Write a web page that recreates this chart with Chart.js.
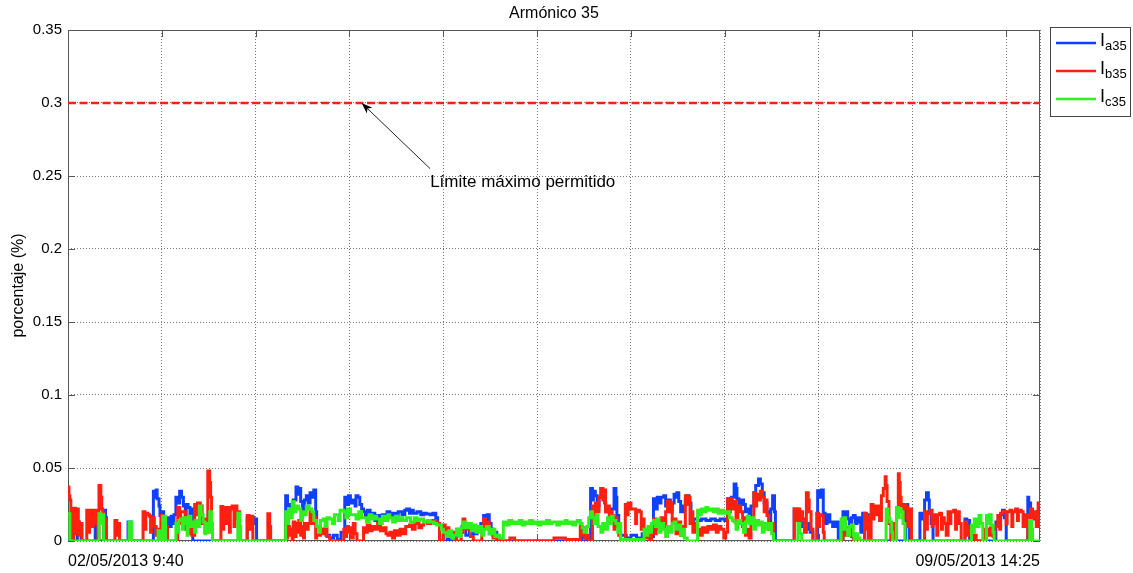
<!DOCTYPE html>
<html>
<head>
<meta charset="utf-8">
<title>Armónico 35</title>
<script src="https://cdn.jsdelivr.net/npm/chart.js@4.4.1/dist/chart.umd.min.js"></script>
<style>
  html, body { margin: 0; padding: 0; background: #ffffff; }
  #wrap { width: 1133px; height: 573px; }
</style>
</head>
<body>
<div id="wrap"><canvas id="chart" width="1133" height="573"></canvas></div>
<script>
// Sample index runs from the first record (02/05/2013 9:40) to the last (09/05/2013 14:25), 10-minute steps
const lastSample = 1036;
const xTickLabels = ['02/05/2013 9:40', '09/05/2013 14:25'];
const xGridStep = 100;
const yTickValues = [0, 0.05, 0.1, 0.15, 0.2, 0.25, 0.3, 0.35];
const limitValue = 0.3;
const limitText = 'Límite máximo permitido';
const chartTitle = 'Armónico 35';
const yAxisTitle = 'porcentaje (%)';
const seriesLabels = ['a35', 'b35', 'c35'];

// Each pair is [sample index, value in %]; the value holds until the next pair
const ia35 = [
  [0,0],[3,0.013],[4,0.006],[5,0.012],[6,0],[10,0.013],[12,0.008],[13,0.012],[14,0],
  [29,0.019],[31,0.012],[32,0],[38,0.021],[40,0.016],[41,0],[64,0.013],[67,0],
  [91,0.034],[93,0.03],[94,0.035],[95,0.029],[97,0.024],[98,0.0175],[100,0.02],[102,0.012],[104,0],
  [106,0.016],[108,0.01],[110,0.017],[112,0.012],[113,0.018],[115,0.030],[117,0.026],[119,0.034],[121,0.03],
  [123,0.024],[125,0.018],[126,0.025],[128,0.023],[130,0.016],[131,0.022],[133,0],
  [191,0.0157],[193,0.01],[195,0.016],[198,0.012],[200,0.015],[201,0],
  [232,0.031],[234,0.024],[236,0.025],[238,0.02],[240,0.028],[243,0.037],[245,0.032],[246,0.036],[248,0.027],
  [250,0.02],[252,0.028],[254,0.031],[256,0.026],
  [258,0.033],[260,0.03],[262,0.035],[264,0.02],[265,0.006],[267,0.01],[269,0.006],[272,0.008],[275,0.004],
  [279,0.002],[283,0.004],[287,0.001],[291,0.006],
  [295,0.030],[297,0.025],[299,0.031],[301,0.026],[304,0.028],[306,0.024],[307,0.031],[309,0.030],[311,0.025],
  [313,0.022],[315,0.020],[317,0.017],[319,0.021],[322,0.016],[325,0.019],[327,0.014],[329,0.0175],[332,0.016],
  [335,0.018],[338,0.015],[340,0.02],[343,0.016],[346,0.019],[349,0.017],[352,0.02],[356,0.018],[359,0.021],
  [361,0.022],[364,0.019],[366,0.021],[368,0.019],[372,0.02],[376,0.018],[379,0.019],[382,0.0185],[386,0.018],
  [389,0.019],[392,0.016],[394,0.012],[396,0],
  [400,0.003],[404,0.001],[408,0.004],[412,0.002],[414,0.008],[417,0.006],[420,0.01],[424,0.004],[428,0.008],
  [432,0.005],[436,0.009],[440,0.012],[443,0.0175],[445,0.012],[447,0.018],[449,0.012],[451,0.008],[453,0.004],
  [455,0.006],[457,0.003],[460,0],
  [548,0.003],[552,0],[557,0.036],[559,0.028],[560,0.034],[562,0.031],[564,0.024],[566,0.03],[568,0.036],[570,0.03],
  [572,0.026],[573,0.02],[575,0.020],[577,0.014],[579,0.022],[582,0.036],[584,0.03],[585,0.0175],[587,0.01],
  [589,0.004],[595,0.002],[600,0.004],[606,0.002],[612,0.005],[618,0.003],
  [624,0.029],[626,0.022],[628,0.03],[630,0.026],[632,0.03],[635,0.031],[637,0.024],[639,0.028],[642,0.020],
  [644,0.026],[646,0.032],[648,0.03],[649,0.033],[651,0.027],[653,0.02],[655,0.024],[658,0.028],[660,0.031],
  [662,0.026],[664,0.013],[667,0.015],[671,0.014],[675,0.015],[680,0.014],[685,0.015],[690,0.014],[695,0.015],[700,0.014],
  [703,0.029],[705,0.024],[707,0.03],[710,0.039],[712,0.036],[713,0.029],[715,0.024],[717,0.028],[720,0.025],
  [722,0.02],[724,0.022],[726,0.016],[728,0.024],[731,0.033],[733,0.038],[736,0.0425],[738,0.039],[740,0.033],
  [742,0.026],[745,0.020],[747,0.014],[749,0.022],[751,0.031],[753,0.02],[754,0],[774,0.022],
  [778,0.0165],[780,0.01],[782,0.013],[785,0.008],[788,0.012],[791,0.006],[794,0],
  [799,0.0345],[801,0.03],[803,0.035],[805,0.019],[807,0.012],[809,0.018],[812,0.013],[815,0.01],[818,0.013],[821,0],
  [826,0.020],[828,0.016],[829,0.02],[831,0.015],[833,0.008],[835,0.016],[837,0.0175],[839,0.012],[841,0.016],
  [844,0.013],[845,0.006],[847,0.019],[849,0.014],[851,0.018],[853,0],
  [893,0.025],[895,0.02],[897,0],[908,0.019],[911,0.015],[913,0.028],[915,0.033],[917,0.028],[918,0.020],[920,0.012],[922,0],
  [956,0.015],[958,0.01],[960,0.014],[961,0],[989,0.013],[992,0.01],[994,0.018],[996,0.021],[998,0.016],[1000,0],
  [1023,0.030],[1024,0.026],[1026,0.018],[1030,0.015],[1033,0.02],[1036,0.02]
];

const ib35 = [
  [0,0.037],[1,0.031],[2,0.028],[3,0.008],[4,0.003],[5,0],[6,0.0225],[8,0.005],[9,0.022],[11,0.013],[12,0.004],
  [13,0.012],[15,0],
  [20,0.021],[22,0.006],[23,0.021],[26,0.01],[27,0.021],[30,0.012],[31,0.02],[32,0],[33,0.038],[35,0.03],[36,0.022],
  [37,0.019],[39,0.008],[40,0.015],[41,0],
  [50,0.014],[52,0.004],[53,0.012],[55,0],
  [80,0.020],[82,0.008],[83,0.019],[85,0.018],[87,0.017],[88,0.006],[89,0.016],[92,0.01],[94,0.004],[96,0.008],
  [97,0.002],[99,0.0175],[101,0.006],[102,0.016],[104,0.01],[106,0],
  [117,0.023],[119,0.012],[120,0.02],[123,0.020],[125,0.008],[127,0.012],[128,0.005],[130,0.012],[132,0.004],
  [135,0.025],[137,0.018],[138,0.026],[141,0.024],[143,0.012],[144,0.015],[146,0.006],[149,0.048],[151,0.04],
  [152,0.03],[153,0.012],[154,0],
  [163,0.0236],[165,0.008],[166,0.023],[168,0.012],[169,0.023],[172,0.006],[173,0.022],[175,0.024],[177,0.01],
  [178,0.024],[180,0.015],[181,0.02],[183,0],
  [191,0.0175],[193,0.008],[194,0.017],[197,0],[213,0.0186],[215,0.01],[216,0],
  [232,0.012],[233,0.002],[234,0.01],[236,0.004],[238,0.008],[239,0],[240,0.013],[242,0.003],[243,0.012],[245,0.006],
  [246,0.014],[248,0.004],[249,0.01],[251,0.002],[252,0.012],[254,0.008],[256,0.012],
  [258,0.020],[260,0.012],[262,0.016],[264,0.002],[265,0.008],[267,0.004],[269,0.008],[272,0.005],[274,0.009],
  [276,0.003],[279,0],
  [294,0.008],[296,0.003],[297,0.01],[299,0.006],[300,0.009],[302,0.002],[304,0.012],[306,0.005],[308,0],
  [315,0.009],[317,0.006],[319,0.011],[322,0.007],[324,0.01],[327,0.008],[330,0.012],[333,0.007],[336,0.009],
  [339,0.005],[341,0.004],[343,0.006],[346,0.002],[348,0.007],[351,0.004],[354,0.008],[357,0.005],[360,0.01],
  [364,0.011],[367,0.008],[370,0.012],[374,0.009],[377,0.011],[379,0.013],[383,0.012],[387,0.014],[391,0.013],
  [394,0.012],[396,0],
  [400,0.011],[402,0.005],[404,0.009],[406,0.003],[408,0.006],[411,0.002],[414,0],[419,0.006],[421,0.015],[423,0.012],
  [425,0.008],[427,0.011],[429,0.003],[432,0],[441,0.006],[443,0.015],[445,0.009],[447,0.013],[449,0.005],[451,0.008],
  [453,0.002],[455,0.004],[457,0],[471,0.002],[476,0],
  [518,0.002],[530,0.001],[546,0.010],[548,0.004],[549,0.009],[551,0.002],[553,0.004],[555,0],
  [559,0.024],[561,0.012],[562,0.026],[564,0.02],[566,0.03],[568,0.036],[570,0.028],[571,0.035],[573,0.02],
  [575,0.024],[577,0.012],[578,0.02],[580,0.0175],[582,0.008],[583,0.016],[585,0.01],[587,0.004],[589,0],
  [594,0.025],[596,0.018],[597,0.026],[600,0.022],[603,0.022],[605,0.012],[606,0.021],[609,0.020],[611,0.008],
  [612,0.015],[614,0.008],[616,0.002],[618,0.006],[620,0],[622,0.008],[624,0.015],[626,0.005],[627,0.014],
  [630,0.008],[632,0.016],[635,0.01],[637,0.02],[639,0.027],[641,0.02],[642,0.026],[644,0.012],[646,0.015],
  [648,0.005],[650,0.013],[653,0.004],[655,0.01],[658,0.031],[660,0.025],[661,0.03],[663,0.012],[664,0.020],
  [666,0.006],[668,0.012],[671,0.008],[674,0.004],[676,0.009],[679,0.006],[682,0.01],[685,0.008],[688,0.011],
  [691,0.006],[693,0.01],[696,0.008],[699,0.002],[701,0.006],[703,0.029],[705,0.02],[706,0.029],[708,0.022],
  [710,0.027],[712,0.012],[714,0.024],[717,0.020],[719,0.01],[720,0.016],[722,0.004],[724,0.008],[726,0.002],
  [728,0.012],[731,0.033],[733,0.024],[734,0.032],[736,0.028],[738,0.034],[740,0.03],[742,0.02],[743,0.028],
  [745,0.0175],[747,0.008],[749,0.012],[752,0],
  [774,0.022],[776,0.014],[777,0.022],[780,0.012],[781,0.02],[783,0.015],[785,0.006],[787,0.033],[789,0.028],
  [790,0.020],[792,0.008],[794,0],[798,0.019],[800,0.01],[801,0.018],[803,0.0175],[805,0.006],[806,0],
  [826,0.008],[829,0.004],[832,0.009],[835,0.003],[837,0],
  [849,0.019],[851,0.008],[852,0.017],[853,0],[856,0.025],[858,0.015],[859,0.024],[861,0.018],[863,0.024],
  [865,0.014],[867,0.031],[869,0.036],[871,0.044],[872,0.038],[873,0.027],[875,0.012],[877,0],[879,0.012],
  [881,0],[883,0.02],[885,0.046],[886,0.04],[887,0.03],[888,0.024],[890,0.016],[891,0.025],[893,0.023],
  [895,0.01],[896,0.022],[899,0],
  [913,0.020],[915,0.008],[916,0.019],[919,0.021],[921,0.01],[922,0.018],[924,0.012],[926,0.004],[927,0.018],
  [929,0.019],[931,0.008],[932,0.016],[934,0.012],[936,0.004],[938,0.020],[940,0.012],[941,0.02],[944,0.021],
  [946,0.008],[947,0.02],[950,0.012],[952,0],[956,0.013],[958,0.004],[960,0.01],[963,0],[966,0.004],[968,0],
  [977,0.008],[980,0.004],[983,0.009],[986,0.003],[988,0.01],[991,0.0175],[993,0.008],[994,0.019],[996,0.02],
  [998,0.020],[1000,0.012],[1001,0.02],[1004,0.021],[1006,0.01],[1007,0.02],[1010,0.022],[1012,0.014],
  [1013,0.021],[1016,0.020],[1018,0.01],[1020,0.018],[1023,0],[1026,0.022],[1028,0.016],[1030,0.020],
  [1032,0.01],[1034,0.026],[1036,0.026]
];

const ic35 = [
  [0,0.0186],[2,0],[33,0.0186],[35,0.012],[36,0.018],[38,0],[65,0.013],[68,0],[96,0.007],[99,0],[101,0.017],[104,0],
  [115,0.012],[117,0.006],[118,0.014],[120,0.015],[122,0.008],[123,0.016],[126,0.012],[127,0.004],[128,0.014],
  [129,0.017],[131,0.01],[133,0.013],[135,0.006],[136,0.014],[138,0.01],[140,0.024],[142,0.018],[144,0.013],
  [146,0.005],[147,0.012],[149,0.006],[151,0.020],[153,0.012],[154,0],[181,0.019],[183,0.01],[184,0],
  [232,0.020],[234,0.012],[235,0.022],[237,0.016],[239,0.027],[241,0.02],[243,0.024],[246,0.022],[248,0.014],
  [250,0.02],[252,0.018],[254,0.024],[257,0.022],
  [260,0.02],[262,0.014],[265,0.010],[267,0.006],[269,0.014],[272,0.015],[274,0.01],[276,0.016],[279,0.015],
  [282,0.012],[284,0.018],[286,0.018],[288,0.014],[290,0.021],[294,0.020],[296,0.016],[298,0.022],[301,0.018],
  [304,0.018],[307,0.015],[310,0.02],[313,0.016],[315,0.016],[318,0.013],[321,0.018],[324,0.015],[327,0.017],
  [329,0.015],[332,0.012],[335,0.017],[338,0.014],[341,0.018],[343,0.016],[346,0.013],[349,0.017],[352,0.014],
  [355,0.016],[357,0.014],[361,0.016],[365,0.013],[369,0.016],[372,0.014],[375,0.015],[379,0.013],[383,0.014],
  [386,0.013],[390,0.012],[393,0.011],[396,0.011],
  [398,0.008],[400,0.006],[403,0.003],[406,0.007],[409,0.002],[411,0.004],[414,0.008],[417,0.003],[419,0.009],
  [421,0.013],[424,0.009],[427,0.012],[430,0.007],[432,0.011],[435,0.006],[438,0.01],[441,0.004],[443,0.008],
  [446,0.01],[449,0.005],[452,0.008],[455,0.003],[457,0.004],[460,0.002],
  [464,0.013],[467,0.011],[470,0.014],[473,0.012],[476,0.013],[478,0.012],[481,0.014],[484,0.011],[487,0.013],
  [490,0.012],[492,0.014],[495,0.012],[498,0.013],[501,0.011],[504,0.013],[507,0.012],[510,0.014],[513,0.012],
  [516,0.013],[518,0.013],[521,0.011],[524,0.013],[527,0.012],[530,0.014],[532,0.012],[535,0.013],[538,0.011],
  [541,0.013],[543,0.014],[546,0.012],[548,0.009],[550,0.006],[553,0.01],[555,0.016],[557,0.020],[559,0.016],
  [561,0.012],[563,0.018],[565,0.01],[568,0.006],[570,0.012],[572,0.008],[575,0.016],[577,0.012],[579,0.017],
  [581,0.014],[584,0.012],[586,0.006],[587,0.012],[589,0.001],
  [614,0.008],[616,0.004],[618,0.01],[620,0.006],[622,0.012],[624,0.014],[626,0.01],[628,0.015],[630,0.006],
  [632,0.012],[635,0.008],[637,0.003],[639,0.01],[642,0.006],[644,0.012],[646,0.013],[648,0.008],[650,0.011],
  [653,0.004],[655,0.008],[657,0.002],[660,0],
  [671,0.021],[673,0.018],[675,0.022],[678,0.02],[680,0.023],[682,0.021],[685,0.022],[688,0.02],[690,0.022],
  [693,0.019],[696,0.021],[699,0.019],[702,0.02],[705,0.016],[708,0.014],[710,0.013],[712,0.008],[714,0.014],
  [717,0.012],[720,0.006],[722,0.013],[724,0.017],[726,0.012],[728,0.016],[731,0.008],[733,0.014],[736,0.011],
  [738,0.013],[740,0.006],[742,0.012],[745,0.008],[748,0.012],[750,0.005],[752,0],
  [778,0.012],[780,0.005],[782,0],[824,0.015],[826,0.008],[827,0.016],[829,0.008],[831,0.004],[833,0.01],
  [835,0.011],[837,0.004],[838,0],[840,0.005],[842,0.002],[844,0],
  [872,0.022],[874,0.016],[876,0.013],[878,0.006],[879,0],[883,0.023],[885,0.016],[886,0.022],[888,0.020],
  [890,0.012],[892,0],
  [963,0.011],[965,0.006],[966,0.015],[968,0.01],[971,0.0175],[973,0.012],[975,0],[979,0.0175],[981,0.012],
  [982,0.018],[984,0.011],[986,0.006],[987,0],[1025,0.014],[1027,0.008],[1028,0],[1036,0]
];

// Annotation anchored in data units: arrow tip on the limit line, text below it
const arrowTip = { x: 313, y: 0.3 };
const arrowTail = { x: 386, y: 0.255 };
const labelAnchor = { x: 386, y: 0.2455 };

const COLORS = { a: '#1040ff', b: '#ff2010', c: '#30ee20', limit: '#ff2010', axis: '#555555', grid: '#777777' };
const FONT = "'Liberation Sans', Arial, Helvetica, sans-serif";

const toPoints = pairs => pairs.map(([x, y]) => ({ x, y }));

// Inner tick marks and the closed axes box
const axesBox = {
  id: 'axesBox',
  beforeDatasetsDraw(chart) {
    const { ctx, chartArea: a, scales: { x, y } } = chart;
    ctx.save();
    ctx.strokeStyle = COLORS.axis;
    ctx.lineWidth = 1;
    ctx.strokeRect(a.left + 0.5, a.top + 0.5, a.right - a.left - 1, a.bottom - a.top - 1);
    const tl = 7;
    ctx.beginPath();
    yTickValues.forEach(v => {
      const py = Math.round(y.getPixelForValue(v)) + 0.5;
      ctx.moveTo(a.left, py); ctx.lineTo(a.left + tl, py);
      ctx.moveTo(a.right, py); ctx.lineTo(a.right - tl, py);
    });
    for (let v = 0; v <= lastSample; v += xGridStep) {
      const px = Math.round(x.getPixelForValue(v)) + 0.5;
      ctx.moveTo(px, a.bottom); ctx.lineTo(px, a.bottom - tl);
      ctx.moveTo(px, a.top); ctx.lineTo(px, a.top + tl);
    }
    ctx.stroke();
    ctx.restore();
  },
  afterDraw(chart) {
    const { ctx, chartArea: a, scales: { x, y } } = chart;
    ctx.save();
    ctx.fillStyle = '#000';

    // title
    ctx.font = `16px ${FONT}`;
    ctx.textAlign = 'center';
    ctx.textBaseline = 'middle';
    ctx.fillText(chartTitle, (a.left + a.right) / 2, 14);

    // y axis title
    ctx.save();
    ctx.translate(19, (a.top + a.bottom) / 2);
    ctx.rotate(-Math.PI / 2);
    ctx.font = `16px ${FONT}`;
    ctx.fillText(yAxisTitle, 0, 0);
    ctx.restore();

    // arrow and label for the limit line
    const tipX = x.getPixelForValue(arrowTip.x), tipY = y.getPixelForValue(arrowTip.y);
    const tailX = x.getPixelForValue(arrowTail.x), tailY = y.getPixelForValue(arrowTail.y);
    const ang = Math.atan2(tipY - tailY, tipX - tailX);
    ctx.strokeStyle = '#222';
    ctx.lineWidth = 1;
    ctx.beginPath();
    ctx.moveTo(tailX, tailY);
    ctx.lineTo(tipX - 8 * Math.cos(ang), tipY - 8 * Math.sin(ang));
    ctx.stroke();
    ctx.beginPath();
    ctx.moveTo(tipX, tipY);
    ctx.lineTo(tipX - 11 * Math.cos(ang) + 4 * Math.sin(ang), tipY - 11 * Math.sin(ang) - 4 * Math.cos(ang));
    ctx.lineTo(tipX - 8 * Math.cos(ang), tipY - 8 * Math.sin(ang));
    ctx.lineTo(tipX - 11 * Math.cos(ang) - 4 * Math.sin(ang), tipY - 11 * Math.sin(ang) + 4 * Math.cos(ang));
    ctx.closePath();
    ctx.fillStyle = '#000';
    ctx.fill();
    ctx.font = `17px ${FONT}`;
    ctx.textAlign = 'left';
    ctx.textBaseline = 'middle';
    ctx.fillText(limitText, x.getPixelForValue(labelAnchor.x), y.getPixelForValue(labelAnchor.y));

    // legend box with subscripted names
    const bx = 1050, by = 27, bw = 80, bh = 89;
    ctx.fillStyle = '#fff';
    ctx.fillRect(bx, by, bw, bh);
    ctx.strokeStyle = '#444';
    ctx.strokeRect(bx + 0.5, by + 0.5, bw, bh);
    const rows = [43, 71, 99];
    const cols = [COLORS.a, COLORS.b, COLORS.c];
    rows.forEach((ry, i) => {
      ctx.strokeStyle = cols[i];
      ctx.lineWidth = 2.5;
      ctx.beginPath();
      ctx.moveTo(1056, ry); ctx.lineTo(1096, ry);
      ctx.stroke();
      ctx.fillStyle = '#000';
      ctx.textAlign = 'left';
      ctx.textBaseline = 'alphabetic';
      ctx.font = `18px ${FONT}`;
      ctx.fillText('I', 1100, ry + 3);
      ctx.font = `13px ${FONT}`;
      ctx.fillText(seriesLabels[i], 1105, ry + 7);
    });
    ctx.restore();
  }
};

const stepLine = (label, pairs, color, order) => ({
  label,
  data: toPoints(pairs),
  borderColor: color,
  backgroundColor: color,
  borderWidth: 3,
  stepped: true,
  pointRadius: 0,
  fill: false,
  order
});

new Chart(document.getElementById('chart'), {
  type: 'line',
  data: {
    datasets: [
      stepLine('I' + seriesLabels[0], ia35, COLORS.a, 3),
      stepLine('I' + seriesLabels[1], ib35, COLORS.b, 2),
      stepLine('I' + seriesLabels[2], ic35, COLORS.c, 1),
      {
        label: limitText,
        data: [{ x: 0, y: limitValue }, { x: lastSample, y: limitValue }],
        borderColor: COLORS.limit,
        borderWidth: 2.5,
        borderDash: [8, 3.5],
        pointRadius: 0,
        order: 0
      }
    ]
  },
  options: {
    responsive: false,
    animation: false,
    devicePixelRatio: 1,
    layout: { padding: { top: 30, right: 93, bottom: 0, left: 0 } },
    plugins: { legend: { display: false }, title: { display: false }, tooltip: { enabled: false } },
    scales: {
      x: {
        type: 'linear',
        min: 0,
        max: lastSample,
        afterFit(scale) { scale.height = 32; },
        afterBuildTicks(scale) {
          const t = [];
          for (let v = 0; v <= lastSample; v += xGridStep) t.push({ value: v });
          t.push({ value: lastSample });
          scale.ticks = t;
        },
        grid: { color: COLORS.grid, lineWidth: 1, drawTicks: false },
        border: { display: false, dash: [1, 2] },
        ticks: {
          autoSkip: false,
          maxRotation: 0,
          align: 'inner',
          padding: 11,
          color: '#000',
          font: { family: FONT, size: 16 },
          callback(value, index, ticks) {
            if (index === 0) return xTickLabels[0];
            if (index === ticks.length - 1) return xTickLabels[1];
            return '';
          }
        }
      },
      y: {
        min: 0,
        max: 0.35,
        afterFit(scale) { scale.width = 68; },
        afterBuildTicks(scale) { scale.ticks = yTickValues.map(v => ({ value: v })); },
        grid: { color: COLORS.grid, lineWidth: 1, drawTicks: false },
        border: { display: false, dash: [1, 2] },
        ticks: {
          padding: 6,
          color: '#000',
          font: { family: FONT, size: 15 },
          callback: v => String(+Number(v).toFixed(2))
        }
      }
    }
  },
  plugins: [axesBox]
});
</script>
</body>
</html>
